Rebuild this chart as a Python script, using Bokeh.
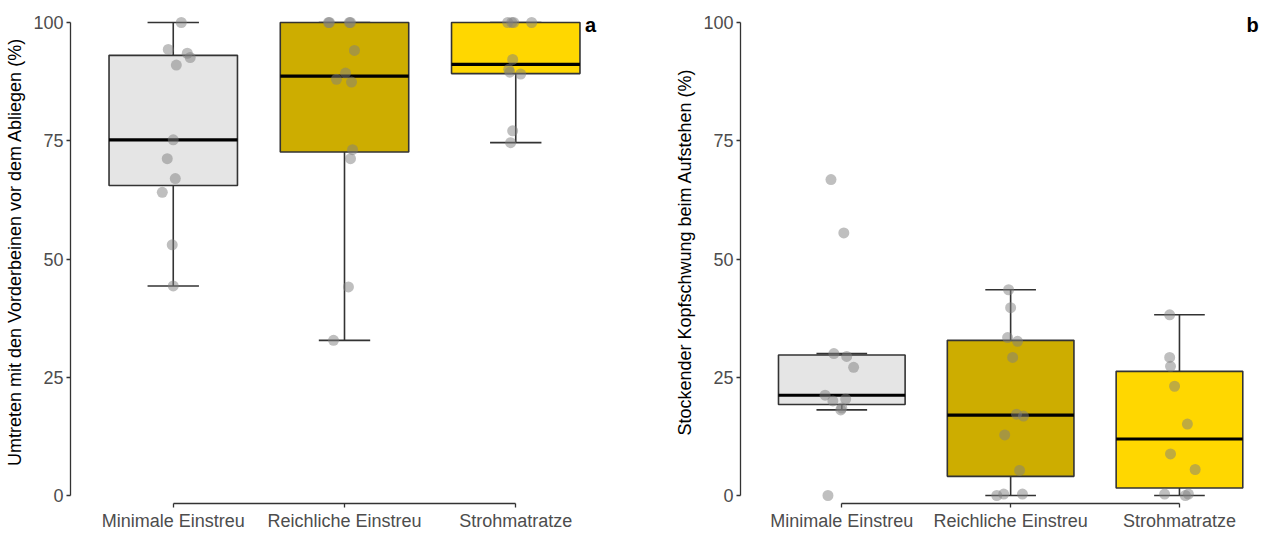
import numpy as np
from bokeh.plotting import figure
from bokeh.layouts import row
from bokeh.models import Range1d, FixedTicker, Label, ColumnDataSource
from bokeh.embed import file_html
from bokeh.resources import INLINE

# ---------------- data ----------------
categories = ["Minimale Einstreu", "Reichliche Einstreu", "Strohmatratze"]
fill_colors = ["#E5E5E5", "#CDAD00", "#FFD700"]
y_ticks = [0, 25, 50, 75, 100]

title_a = "Umtreten mit den Vorderbeinen vor dem Abliegen (%)"
title_b = "Stockender Kopfschwung beim Aufstehen (%)"

# Panel a values (%) and horizontal jitter (category units)
a_minimale = [100, 94.3, 93.5, 92.6, 91.0, 75.2, 71.2, 67.0, 64.1, 53.0, 44.3]
a_minimale_jit = [0.047, -0.029, 0.082, 0.099, 0.018, 0.0, -0.035, 0.012, -0.064, -0.006, 0.0]
a_reichlich = [100, 100, 100, 100, 94.1, 89.3, 88.0, 87.4, 73.1, 71.2, 44.1, 32.8]
a_reichlich_jit = [-0.093, -0.088, 0.029, 0.035, 0.058, 0.006, -0.047, 0.041, 0.047, 0.035, 0.023, -0.064]
a_stroh = [100, 100, 100, 100, 92.2, 90.1, 89.5, 89.1, 77.1, 74.6]
a_stroh_jit = [-0.047, -0.023, -0.012, 0.093, -0.018, -0.041, -0.035, 0.029, -0.018, -0.03]

# Panel b values (%) and horizontal jitter
b_minimale = [66.8, 55.5, 30.0, 29.4, 27.1, 21.2, 20.0, 20.4, 18.1, 18.5, 0.0]
b_minimale_jit = [-0.064, 0.012, -0.047, 0.029, 0.07, -0.099, -0.053, 0.023, -0.006, 0.0, -0.082]
b_reichlich = [43.5, 39.7, 33.4, 32.6, 29.2, 17.2, 16.8, 12.8, 5.3, 0.0, 0.3, 0.3]
b_reichlich_jit = [-0.012, 0.0, -0.018, 0.041, 0.012, 0.035, 0.076, -0.035, 0.053, -0.082, -0.041, 0.07]
b_stroh = [38.2, 29.2, 27.3, 23.1, 15.1, 8.8, 5.5, 0.3, 0.0, 0.3]
b_stroh_jit = [-0.058, -0.058, -0.053, -0.029, 0.047, -0.053, 0.093, -0.088, 0.035, 0.053]

panels = [
    dict(values=[a_minimale, a_reichlich, a_stroh],
         jitter=[a_minimale_jit, a_reichlich_jit, a_stroh_jit],
         title=title_a, tag="a"),
    dict(values=[b_minimale, b_reichlich, b_stroh],
         jitter=[b_minimale_jit, b_reichlich_jit, b_stroh_jit],
         title=title_b, tag="b"),
]

FONT = "Liberation Sans"
BOX_W = 0.75
CAP_W = 0.3


def box_stats(vals):
    v = np.asarray(vals, dtype=float)
    q1, med, q3 = np.percentile(v, [25, 50, 75])
    iqr = q3 - q1
    lo = v[v >= q1 - 1.5 * iqr].min()
    hi = v[v <= q3 + 1.5 * iqr].max()
    return q1, med, q3, lo, hi


def make_panel(panel, width, mb_left, mb_right, x_end):
    p = figure(width=width, height=533, output_backend="svg", toolbar_location=None,
               x_range=Range1d(0.4, x_end), y_range=Range1d(-1.69, 104.65),
               min_border_left=mb_left, min_border_right=mb_right,
               min_border_top=0, min_border_bottom=28)
    p.outline_line_color = None
    p.xgrid.visible = False
    p.ygrid.visible = False
    p.background_fill_color = "white"

    xs = list(range(1, len(categories) + 1))
    stats = [box_stats(v) for v in panel["values"]]
    src = ColumnDataSource(dict(
        x=xs, q1=[s[0] for s in stats], med=[s[1] for s in stats], q3=[s[2] for s in stats],
        lo=[s[3] for s in stats], hi=[s[4] for s in stats],
        left=[x - BOX_W / 2 for x in xs], right=[x + BOX_W / 2 for x in xs],
        cl=[x - CAP_W / 2 for x in xs], cr=[x + CAP_W / 2 for x in xs],
        color=fill_colors))

    p.segment(x0="x", y0="q3", x1="x", y1="hi", source=src, line_color="#333333", line_width=1.6)
    p.segment(x0="x", y0="q1", x1="x", y1="lo", source=src, line_color="#333333", line_width=1.6)
    p.segment(x0="cl", y0="hi", x1="cr", y1="hi", source=src, line_color="#333333", line_width=1.6)
    p.segment(x0="cl", y0="lo", x1="cr", y1="lo", source=src, line_color="#333333", line_width=1.6)
    p.quad(left="left", right="right", bottom="q1", top="q3", source=src,
           fill_color="color", line_color="#333333", line_width=1.6)
    p.segment(x0="left", y0="med", x1="right", y1="med", source=src, line_color="black", line_width=3.2)

    px, py = [], []
    for i, (vals, jit) in enumerate(zip(panel["values"], panel["jitter"])):
        for v, j in zip(vals, jit):
            px.append(xs[i] + j)
            py.append(v)
    p.scatter(px, py, size=11, fill_color="#7F7F7F", fill_alpha=0.5, line_color=None)

    for ax in (p.xaxis[0], p.yaxis[0]):
        ax.axis_line_color = "#333333"
        ax.axis_line_width = 1.3
        ax.major_tick_line_color = "#333333"
        ax.major_tick_line_width = 1.3
        ax.major_tick_out = 4
        ax.major_tick_in = 0
        ax.minor_tick_line_color = None
        ax.major_label_text_font = FONT
        ax.major_label_text_font_size = "18px"
        ax.major_label_text_color = "#4D4D4D"
        ax.major_label_standoff = 3

    p.xaxis.ticker = FixedTicker(ticks=xs)
    p.xaxis.major_label_overrides = {x: c for x, c in zip(xs, categories)}
    p.xaxis.bounds = (xs[0], xs[-1])

    p.yaxis.ticker = FixedTicker(ticks=y_ticks)
    p.yaxis.bounds = (y_ticks[0], y_ticks[-1])
    p.yaxis.axis_label = panel["title"]
    p.yaxis.axis_label_text_font = FONT
    p.yaxis.axis_label_text_font_size = "18px"
    p.yaxis.axis_label_text_font_style = "normal"
    p.yaxis.axis_label_text_color = "black"
    p.yaxis.axis_label_standoff = 5

    p.add_layout(Label(x=3.47, y=99.4, text=panel["tag"], text_align="right",
                       text_baseline="alphabetic", text_font=FONT,
                       text_font_size="20px", text_font_style="bold", text_color="black"))
    return p


p1 = make_panel(panels[0], 672, 70, 54, 3.6)
p2 = make_panel(panels[1], 588, 66, 0, 3.48)
p = row(p1, p2)

open("out.html", "w").write(file_html(p, INLINE))
